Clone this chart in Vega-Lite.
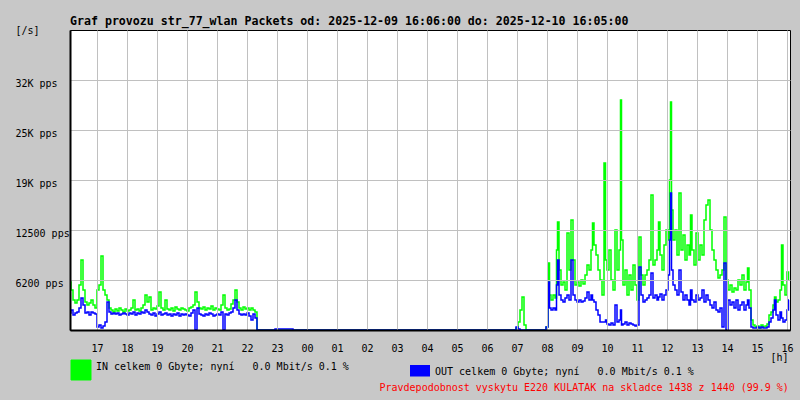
{
 "$schema": "https://vega.github.io/schema/vega-lite/v6.json",
 "width": 720,
 "height": 300,
 "autosize": {"type": "none"},
 "padding": {"left": 70, "top": 30, "right": 10, "bottom": 70},
 "background": "#c8c8c8",
 "title": {"text": "Graf provozu str_77_wlan Packets od: 2025-12-09 16:06:00 do: 2025-12-10 16:05:00", "anchor": "start", "frame": "group", "font": "DejaVu Sans Mono", "fontSize": 11.6, "fontWeight": "bold", "color": "black", "baseline": "alphabetic", "offset": -12},
 "config": {"view": {"fill": "white", "stroke": "black", "strokeWidth": 1}, "font": "DejaVu Sans Mono"},
 "data": {"values": [
  {"m":0,"i":6000,"o":2125},{"m":4,"i":5000,"o":2500},{"m":8,"i":3750,"o":1875},{"m":12,"i":3375,"o":2125},{"m":16,"i":3750,"o":2250},{"m":20,"i":5625,"o":2750},{"m":24,"i":8750,"o":4000},{"m":28,"i":5000,"o":3125},{"m":32,"i":3500,"o":2125},{"m":36,"i":3125,"o":2250},{"m":40,"i":3375,"o":1875},{"m":44,"i":3750,"o":2250},{"m":48,"i":3125,"o":2125},{"m":52,"i":2750,"o":2000},{"m":56,"i":5000,"o":375},{"m":60,"i":5625,"o":625},{"m":64,"i":9250,"o":250},{"m":68,"i":5000,"o":500},{"m":72,"i":4375,"o":1000},{"m":76,"i":3750,"o":3500},{"m":80,"i":2750,"o":2250},{"m":84,"i":2500,"o":2000},{"m":88,"i":2250,"o":2125},{"m":92,"i":2625,"o":2000},{"m":96,"i":2375,"o":2125},{"m":100,"i":2750,"o":1875},{"m":104,"i":2500,"o":2000},{"m":108,"i":2250,"o":2125},{"m":112,"i":2625,"o":2000},{"m":116,"i":2375,"o":1875},{"m":120,"i":2500,"o":2125},{"m":124,"i":2750,"o":2000},{"m":128,"i":3750,"o":2250},{"m":132,"i":2500,"o":1875},{"m":136,"i":2625,"o":2125},{"m":140,"i":2375,"o":2000},{"m":144,"i":2750,"o":2250},{"m":148,"i":3125,"o":2125},{"m":152,"i":4375,"o":2500},{"m":156,"i":3500,"o":2250},{"m":160,"i":4125,"o":2000},{"m":164,"i":2500,"o":1875},{"m":168,"i":2750,"o":2125},{"m":172,"i":2625,"o":1750},{"m":176,"i":3000,"o":2000},{"m":180,"i":4750,"o":2250},{"m":184,"i":2750,"o":1875},{"m":188,"i":2500,"o":2000},{"m":192,"i":3750,"o":2125},{"m":196,"i":2625,"o":1875},{"m":200,"i":2500,"o":2000},{"m":204,"i":2750,"o":1750},{"m":208,"i":2375,"o":2000},{"m":212,"i":2875,"o":1875},{"m":216,"i":2625,"o":2125},{"m":220,"i":2500,"o":1750},{"m":224,"i":2750,"o":2000},{"m":228,"i":2625,"o":1875},{"m":232,"i":2500,"o":2000},{"m":236,"i":2375,"o":1875},{"m":240,"i":2750,"o":1750},{"m":244,"i":2875,"o":2125},{"m":248,"i":3125,"o":2500},{"m":252,"i":4750,"o":0},{"m":256,"i":3500,"o":2750},{"m":260,"i":2750,"o":2000},{"m":264,"i":2625,"o":1875},{"m":268,"i":2875,"o":1750},{"m":272,"i":2500,"o":2000},{"m":276,"i":2750,"o":1875},{"m":280,"i":2625,"o":2125},{"m":284,"i":3000,"o":2000},{"m":288,"i":2500,"o":1750},{"m":292,"i":2750,"o":1875},{"m":296,"i":2625,"o":2000},{"m":300,"i":2500,"o":1875},{"m":304,"i":3125,"o":2250},{"m":308,"i":4375,"o":0},{"m":312,"i":2750,"o":2000},{"m":316,"i":2500,"o":1875},{"m":320,"i":2625,"o":2125},{"m":324,"i":3250,"o":2250},{"m":328,"i":3750,"o":2750},{"m":332,"i":5000,"o":3750},{"m":336,"i":3500,"o":2500},{"m":340,"i":2750,"o":2000},{"m":344,"i":2500,"o":1875},{"m":348,"i":2875,"o":2000},{"m":352,"i":2625,"o":1875},{"m":356,"i":2750,"o":2125},{"m":360,"i":2500,"o":1750},{"m":364,"i":2750,"o":1250},{"m":368,"i":2500,"o":2000},{"m":372,"i":2250,"o":1500},{"m":376,"i":0,"o":0},
  {"m":444,"i":0,"o":125},{"m":448,"i":0,"o":0},{"m":890,"i":0,"o":0},{"m":894,"i":250,"o":375},{"m":898,"i":1000,"o":125},{"m":902,"i":2500,"o":0},{"m":906,"i":4125,"o":0},{"m":910,"i":625,"o":0},{"m":914,"i":0,"o":0},{"m":950,"i":0,"o":0},{"m":954,"i":375,"o":375},
  {"m":958,"i":8375,"o":6000},{"m":960,"i":4375,"o":2750},{"m":964,"i":3750,"o":2500},{"m":968,"i":4375,"o":2750},{"m":972,"i":4000,"o":2500},{"m":974,"i":10000,"o":5625},{"m":976,"i":13500,"o":8750},{"m":980,"i":7500,"o":4375},{"m":984,"i":5625,"o":3750},{"m":988,"i":6000,"o":3500},{"m":992,"i":5000,"o":4000},{"m":996,"i":12125,"o":4375},{"m":1000,"i":7500,"o":3750},{"m":1004,"i":13750,"o":8750},{"m":1008,"i":8750,"o":4375},{"m":1012,"i":5625,"o":3750},{"m":1016,"i":6000,"o":3500},{"m":1020,"i":5500,"o":3750},{"m":1024,"i":6250,"o":3500},{"m":1028,"i":5750,"o":3625},{"m":1032,"i":6875,"o":4000},{"m":1036,"i":8125,"o":4750},{"m":1040,"i":7500,"o":3750},{"m":1044,"i":10000,"o":4375},{"m":1046,"i":13375,"o":3750},{"m":1050,"i":10625,"o":3500},{"m":1054,"i":9375,"o":2500},{"m":1058,"i":7500,"o":1875},{"m":1062,"i":6250,"o":1000},{"m":1066,"i":4375,"o":1000},{"m":1070,"i":20875,"o":1000},{"m":1072,"i":8750,"o":1250},{"m":1076,"i":7500,"o":750},{"m":1080,"i":10000,"o":625},{"m":1084,"i":6250,"o":875},{"m":1088,"i":5000,"o":625},{"m":1092,"i":12500,"o":3125},{"m":1096,"i":7500,"o":1000},{"m":1100,"i":10000,"o":1250},{"m":1102,"i":28750,"o":2500},{"m":1104,"i":11250,"o":625},{"m":1108,"i":5625,"o":750},{"m":1112,"i":7500,"o":1000},{"m":1116,"i":4375,"o":625},{"m":1120,"i":6875,"o":875},{"m":1124,"i":5000,"o":750},{"m":1128,"i":8125,"o":625},{"m":1132,"i":5625,"o":500},{"m":1136,"i":3750,"o":625},{"m":1140,"i":11625,"o":7875},{"m":1144,"i":6875,"o":4375},{"m":1148,"i":5625,"o":3500},{"m":1152,"i":6875,"o":3750},{"m":1156,"i":7500,"o":4000},{"m":1160,"i":8750,"o":4375},{"m":1164,"i":16875,"o":7125},{"m":1168,"i":8125,"o":4000},{"m":1172,"i":8750,"o":4375},{"m":1176,"i":10000,"o":3750},{"m":1178,"i":13500,"o":4125},{"m":1182,"i":9375,"o":4500},{"m":1186,"i":7500,"o":3750},{"m":1190,"i":10625,"o":4375},{"m":1194,"i":12500,"o":5000},{"m":1198,"i":11250,"o":6875},{"m":1200,"i":18750,"o":11250},{"m":1202,"i":28500,"o":17125},{"m":1204,"i":15000,"o":7500},{"m":1208,"i":11250,"o":5625},{"m":1212,"i":12500,"o":5000},{"m":1216,"i":9375,"o":4375},{"m":1220,"i":17125,"o":7500},{"m":1224,"i":10000,"o":4750},{"m":1228,"i":11875,"o":3750},{"m":1232,"i":8750,"o":4375},{"m":1236,"i":10625,"o":3750},{"m":1240,"i":9375,"o":3125},{"m":1242,"i":14375,"o":5000},{"m":1246,"i":10000,"o":3750},{"m":1250,"i":8125,"o":3500},{"m":1254,"i":12125,"o":4375},{"m":1258,"i":8750,"o":3750},{"m":1262,"i":10625,"o":4000},{"m":1266,"i":9375,"o":5000},{"m":1270,"i":13750,"o":3500},{"m":1274,"i":15625,"o":4375},{"m":1278,"i":16250,"o":3750},{"m":1282,"i":12500,"o":3125},{"m":1286,"i":10000,"o":2750},{"m":1290,"i":8750,"o":3500},{"m":1294,"i":7500,"o":2500},{"m":1298,"i":6500,"o":2250},{"m":1302,"i":6875,"o":2750},{"m":1306,"i":7500,"o":375},{"m":1310,"i":14125,"o":8375},{"m":1314,"i":6250,"o":0},{"m":1318,"i":5000,"o":3750},{"m":1322,"i":5625,"o":3125},{"m":1326,"i":4750,"o":3500},{"m":1330,"i":5250,"o":2750},{"m":1334,"i":5000,"o":3750},{"m":1338,"i":6250,"o":2500},{"m":1342,"i":5625,"o":3125},{"m":1346,"i":6875,"o":3500},{"m":1350,"i":5000,"o":2500},{"m":1354,"i":6000,"o":3125},{"m":1356,"i":7750,"o":3750},{"m":1360,"i":5000,"o":2750},{"m":1364,"i":1250,"o":375},{"m":1368,"i":625,"o":250},{"m":1372,"i":375,"o":250},{"m":1376,"i":500,"o":375},{"m":1380,"i":250,"o":250},{"m":1384,"i":625,"o":375},{"m":1388,"i":375,"o":250},{"m":1392,"i":500,"o":250},{"m":1396,"i":750,"o":375},{"m":1400,"i":1875,"o":1000},{"m":1404,"i":2250,"o":1500},{"m":1408,"i":3125,"o":2500},{"m":1410,"i":4125,"o":3750},{"m":1414,"i":3500,"o":1875},{"m":1418,"i":3750,"o":1250},{"m":1422,"i":5000,"o":2250},{"m":1424,"i":10625,"o":1500},{"m":1428,"i":5625,"o":1000},{"m":1432,"i":4375,"o":1250},{"m":1436,"i":7250,"o":2500},{"m":1438,"i":6250,"o":3750}
 ]},
 "layer": [
  {
   "mark": {"type": "line", "interpolate": "step", "strokeWidth": 1.5},
   "encoding": {
    "x": {"field": "m", "type": "quantitative", "scale": {"domain": [0, 1440], "nice": false, "zero": false},
     "axis": {"values": [54,114,174,234,294,354,414,474,534,594,654,714,774,834,894,954,1014,1074,1134,1194,1254,1314,1374,1434],
      "labelExpr": "pad(toString((17 + round((datum.value - 54) / 60)) % 24), 2, '0', 'left')",
      "grid": true, "gridColor": "#c0c0c0", "gridWidth": 1, "ticks": false, "tickSize": 0, "zindex": 1,
      "labelPadding": 21, "labelBaseline": "alphabetic", "labelFont": "DejaVu Sans Mono", "labelFontSize": 10, "labelColor": "black", "labelFlush": false, "labelOverlap": false,
      "domainColor": "black", "domainWidth": 2,
      "title": "[h]", "titleX": 700, "titleY": 30, "titleAlign": "left", "titleBaseline": "alphabetic", "titleFont": "DejaVu Sans Mono", "titleFontSize": 10, "titleFontWeight": "normal", "titleColor": "black"}},
    "y": {"field": "i", "type": "quantitative", "scale": {"domain": [0, 37500], "nice": false},
     "axis": {"values": [6250, 12500, 18750, 25000, 31250],
      "labelExpr": "datum.value == 6250 ? '6200 pps' : datum.value == 12500 ? '12500 pps' : datum.value == 18750 ? '19K pps' : datum.value == 25000 ? '25K pps' : '32K pps'",
      "grid": true, "gridColor": "#c0c0c0", "gridWidth": 1, "ticks": false, "tickSize": 0, "zindex": 1,
      "labelPadding": 55, "labelAlign": "left", "labelBaseline": "alphabetic", "labelOffset": 6, "labelFont": "DejaVu Sans Mono", "labelFontSize": 10, "labelColor": "black", "labelFlush": false, "labelOverlap": false,
      "domainColor": "black", "domainWidth": 2,
      "title": "[/s]", "titleAngle": 0, "titleX": -55, "titleY": 3, "titleAlign": "left", "titleBaseline": "alphabetic", "titleFont": "DejaVu Sans Mono", "titleFontSize": 10, "titleFontWeight": "normal", "titleColor": "black"}},
    "color": {"datum": "IN celkem 0 Gbyte; nyní\u00a0\u00a0\u00a00.0 Mbit/s 0.1 %", "type": "nominal",
     "scale": {"domain": ["IN celkem 0 Gbyte; nyní\u00a0\u00a0\u00a00.0 Mbit/s 0.1 %", "OUT celkem 0 Gbyte; nyní\u00a0\u00a0\u00a00.0 Mbit/s 0.1 %"], "range": ["#00ff00", "#0000ff"]},
     "legend": {"orient": "none", "legendX": 6, "legendY": 335, "direction": "horizontal", "title": null, "padding": 0,
      "symbolType": "square", "symbolSize": 400, "labelOffset": 10, "columnPadding": 61, "labelLimit": 500,
      "labelFont": "DejaVu Sans Mono", "labelFontSize": 10, "labelColor": "black", "labelBaseline": "alphabetic",
      "encode": {"symbols": {"update": {
        "shape": {"signal": "datum.index === 0 ? 'square' : 'M-1,-1H1V0.15H-1Z'"},
        "fill": {"signal": "datum.index === 0 ? '#00ff00' : '#0000ff'"},
        "stroke": {"signal": "datum.index === 0 ? 'black' : '#0000ff'"},
        "strokeWidth": {"signal": "datum.index === 0 ? 1 : 0"},
        "opacity": {"value": 1}, "fillOpacity": {"value": 1}}}}}}
   }
  },
  {
   "mark": {"type": "line", "interpolate": "step", "strokeWidth": 1.5},
   "encoding": {
    "x": {"field": "m", "type": "quantitative", "scale": {"domain": [0, 1440], "nice": false, "zero": false},
     "axis": {"orient": "top", "labels": false, "ticks": false, "domain": false, "grid": false,
      "title": "Pravdepodobnost vyskytu E220 KULATAK na skladce 1438 z 1440 (99.9 %)", "titleX": 309, "titleY": 360, "titleAlign": "left", "titleBaseline": "alphabetic", "titleFont": "DejaVu Sans Mono", "titleFontSize": 10, "titleFontWeight": "normal", "titleColor": "#ff0000"}},
    "y": {"field": "o", "type": "quantitative", "scale": {"domain": [0, 37500], "nice": false},
     "axis": {"values": [6250, 12500, 18750, 25000, 31250],
      "labelExpr": "datum.value == 6250 ? '6200 pps' : datum.value == 12500 ? '12500 pps' : datum.value == 18750 ? '19K pps' : datum.value == 25000 ? '25K pps' : '32K pps'",
      "grid": true, "gridColor": "#c0c0c0", "gridWidth": 1, "ticks": false, "tickSize": 0, "zindex": 1,
      "labelPadding": 55, "labelAlign": "left", "labelBaseline": "alphabetic", "labelOffset": 6, "labelFont": "DejaVu Sans Mono", "labelFontSize": 10, "labelColor": "black", "labelFlush": false, "labelOverlap": false,
      "domainColor": "black", "domainWidth": 2,
      "title": "[/s]", "titleAngle": 0, "titleX": -55, "titleY": 3, "titleAlign": "left", "titleBaseline": "alphabetic", "titleFont": "DejaVu Sans Mono", "titleFontSize": 10, "titleFontWeight": "normal", "titleColor": "black"}},
    "color": {"datum": "OUT celkem 0 Gbyte; nyní\u00a0\u00a0\u00a00.0 Mbit/s 0.1 %", "type": "nominal"}
   }
  }
 ],
 "resolve": {"axis": {"x": "independent"}}
}
